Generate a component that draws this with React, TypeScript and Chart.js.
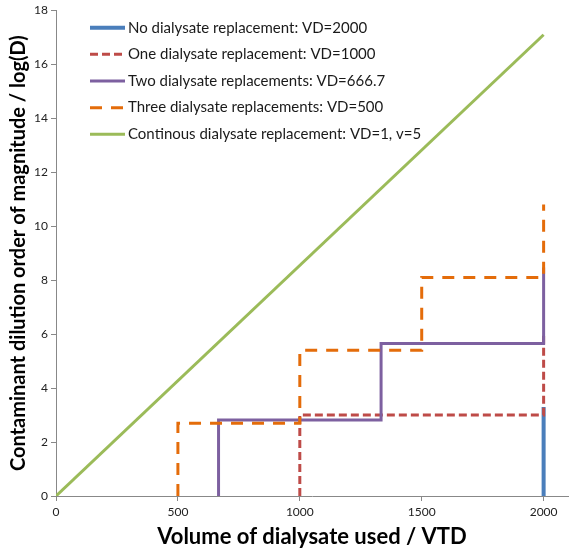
import React, { useEffect, useRef } from "react";
import { Chart, registerables } from "chart.js";

Chart.register(...registerables);

const seriesLabels = [
  "No dialysate replacement: VD=2000",
  "One dialysate replacement: VD=1000",
  "Two dialysate replacements: VD=666.7",
  "Three dialysate replacements: VD=500",
  "Continous dialysate replacement: VD=1, v=5",
];

const noReplX = [2000, 2000];
const noReplY = [0, 3.3];

const oneReplX = [1000, 1000, 2000, 2000];
const oneReplY = [0, 3.0, 3.0, 6.0];

const twoReplX = [666.7, 666.7, 1333.3, 1333.3, 2000, 2000];
const twoReplY = [0, 2.82, 2.82, 5.65, 5.65, 8.47];

const threeReplX = [500, 500, 1000, 1000, 1500, 1500, 2000, 2000];
const threeReplY = [0, 2.7, 2.7, 5.4, 5.4, 8.1, 8.1, 10.8];

const contX = [0, 2000];
const contY = [0, 17.09];

const xTicks = [0, 500, 1000, 1500, 2000];
const yTicks = [0, 2, 4, 6, 8, 10, 12, 14, 16, 18];

const FONT = "Lato, 'Noto Sans', sans-serif";

function pts(xs: number[], ys: number[]) {
  return xs.map((x, i) => ({ x, y: ys[i] }));
}

const legendPlugin = {
  id: "insideLegend",
  afterDraw(chart: any) {
    const ctx = chart.ctx;
    const x0 = 90;
    const x1 = 125;
    const tx = 128;
    const y0 = 27.7;
    const step = 26.65;
    ctx.save();
    chart.data.datasets.forEach((ds: any, i: number) => {
      const y = y0 + i * step;
      ctx.beginPath();
      ctx.strokeStyle = ds.borderColor;
      ctx.lineWidth = ds.borderWidth;
      ctx.setLineDash(ds.borderDash || []);
      ctx.lineCap = "butt";
      ctx.moveTo(x0, y);
      ctx.lineTo(x1, y);
      ctx.stroke();
      ctx.setLineDash([]);
      ctx.fillStyle = "#1a1a1a";
      ctx.font = `15px ${FONT}`;
      ctx.textAlign = "left";
      ctx.textBaseline = "middle";
      ctx.fillText(ds.label, tx, y);
    });
    ctx.restore();
  },
};

export default function App() {
  const ref = useRef<HTMLCanvasElement>(null);

  useEffect(() => {
    if (!ref.current) return;
    const styles = [
      { color: "#4A7EBB", width: 4, dash: [] as number[] },
      { color: "#BE4B48", width: 3, dash: [8, 4] },
      { color: "#7D60A0", width: 3, dash: [] as number[] },
      { color: "#E46C0A", width: 3, dash: [12, 9] },
      { color: "#9BBB59", width: 3, dash: [] as number[] },
    ];
    const dataSets = [
      pts(noReplX, noReplY),
      pts(oneReplX, oneReplY),
      pts(twoReplX, twoReplY),
      pts(threeReplX, threeReplY),
      pts(contX, contY),
    ];
    const chart = new Chart(ref.current, {
      type: "scatter",
      data: {
        datasets: dataSets.map((d, i) => ({
          label: seriesLabels[i],
          data: d,
          showLine: true,
          borderColor: styles[i].color,
          backgroundColor: styles[i].color,
          borderWidth: styles[i].width,
          borderDash: styles[i].dash,
          pointRadius: 0,
          tension: 0,
          fill: false,
          order: 10 - i,
        })),
      },
      options: {
        responsive: false,
        animation: false,
        layout: { padding: { left: 0, right: 4, top: 7, bottom: 0 } },
        plugins: {
          legend: { display: false },
          tooltip: { enabled: false },
        },
        scales: {
          x: {
            type: "linear",
            min: 0,
            max: 2100,
            afterBuildTicks: (scale: any) => {
              scale.ticks = xTicks.map((v) => ({ value: v }));
            },
            afterFit: (scale: any) => {
              scale.height = 54;
            },
            ticks: {
              color: "#222",
              font: { family: FONT, size: 12 },
              padding: 4,
              maxRotation: 0,
              callback: (v: any) => String(v),
            },
            grid: {
              drawOnChartArea: false,
              drawTicks: true,
              tickLength: 5,
              color: "#888",
            },
            border: { color: "#888", width: 1 },
            title: {
              display: true,
              text: "Volume of dialysate used / VTD",
              color: "#000",
              font: { family: FONT, size: 22, weight: "bold" },
              padding: { top: 0, bottom: 0 },
            },
          },
          y: {
            type: "linear",
            min: 0,
            max: 18,
            afterBuildTicks: (scale: any) => {
              scale.ticks = yTicks.map((v) => ({ value: v }));
            },
            afterFit: (scale: any) => {
              scale.width = 56;
            },
            ticks: {
              color: "#222",
              font: { family: FONT, size: 12 },
              padding: 3,
              callback: (v: any) => String(v),
            },
            grid: {
              drawOnChartArea: false,
              drawTicks: true,
              tickLength: 5,
              color: "#888",
            },
            border: { color: "#888", width: 1 },
            title: {
              display: true,
              text: "Contaminant dilution order of magnitude / log(D)",
              color: "#000",
              font: { family: FONT, size: 20, weight: "bold" },
              padding: { top: 7, bottom: 0 },
            },
          },
        },
      },
      plugins: [legendPlugin],
    });
    return () => chart.destroy();
  }, []);

  return (
    <div style={{ position: "absolute", left: 0, top: 0, width: 572, height: 550 }}>
      <canvas ref={ref} width={572} height={550} />
    </div>
  );
}
